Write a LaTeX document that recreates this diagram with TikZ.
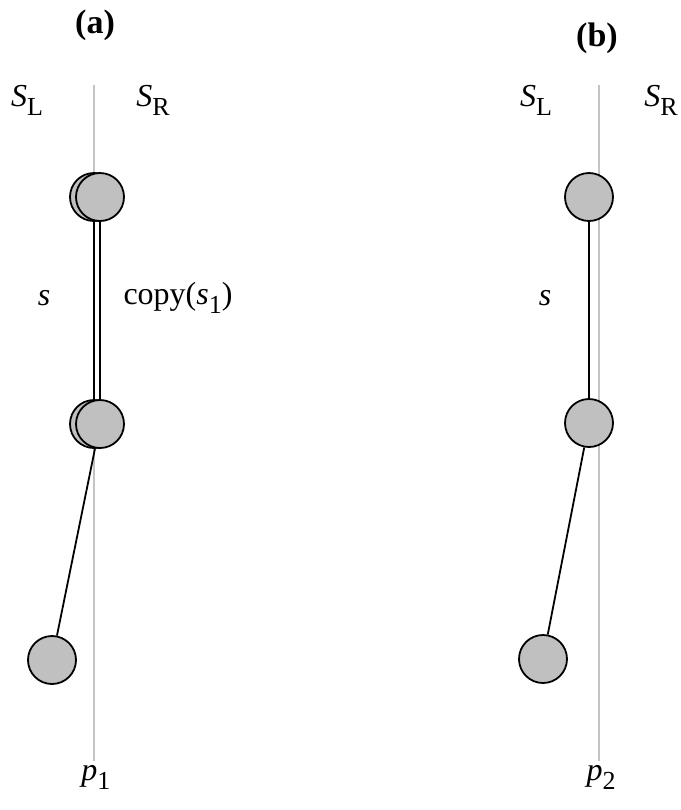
\documentclass[tikz,border=0pt]{standalone}
\usepackage{fontspec}
\setmainfont{Liberation Serif}
\usetikzlibrary{positioning}
\definecolor{BallGray}{HTML}{C0C0C0}
\definecolor{CutGray}{HTML}{C4C4C4}
\newcommand{\lowsub}[1]{\raisebox{-0.28em}{\fontsize{13}{15}\selectfont #1}}

\begin{document}
\begin{tikzpicture}[
        x=0.5pt, y=-0.5pt,
        ball/.style={circle, draw=black, line width=0.9pt, fill=BallGray, minimum size=24pt, inner sep=0pt},
        cut/.style={CutGray, line width=1.3pt},
        link/.style={black, line width=0.9pt},
        lbl/.style={font=\fontsize{16}{18}\selectfont, inner sep=0pt},
        title/.style={font=\fontsize{17}{19}\selectfont\bfseries, inner sep=0pt}
      ]
        \useasboundingbox (0,0) rectangle (681,810);

        % panel (a)
        \coordinate (cutAtop) at (94,85);
        \coordinate (cutAbot) at (94,761);
        \draw[cut] (cutAtop) -- (cutAbot);
        \node[title] (titleA) at (95,25) {(a)};
        \node[lbl] (leftA) at (27,100) {\textit{S}\lowsub{L}};
        \node[lbl] (rightA) at (153,100) {\textit{S}\lowsub{R}};
        \node[ball] (topAback) at (94,197) {};
        \node[ball] (topA) at (100,197) {};
        \node[ball] (midAback) at (94,424) {};
        \node[ball] (midA) at (100,424) {};
        \node[ball] (botA) at (52,660) {};
        \draw[link] (topAback) -- (midAback);
        \draw[link] (topA) -- (midA);
        \draw[link] (midA) -- (botA);
        \node[lbl] (sA) at (44,298) {\textit{s}};
        \node[lbl] (copyA) at (178,298) {copy(\textit{s}\lowsub{1})};
        \node[lbl] (pA) at (96,777) {\textit{p}\lowsub{1}};

        % panel (b)
        \coordinate (cutBtop) at (599,85);
        \coordinate (cutBbot) at (599,761);
        \draw[cut] (cutBtop) -- (cutBbot);
        \node[title] (titleB) at (597,38) {(b)};
        \node[lbl] (leftB) at (536,100) {\textit{S}\lowsub{L}};
        \node[lbl] (rightB) at (661,100) {\textit{S}\lowsub{R}};
        \node[ball] (topB) at (589,197) {};
        \node[ball] (midB) at (589,423) {};
        \node[ball] (botB) at (543,659) {};
        \draw[link] (topB) -- (midB);
        \draw[link] (midB) -- (botB);
        \node[lbl] (sB) at (545,298) {\textit{s}};
        \node[lbl] (pB) at (601,777) {\textit{p}\lowsub{2}};
      \end{tikzpicture}
\end{document}
